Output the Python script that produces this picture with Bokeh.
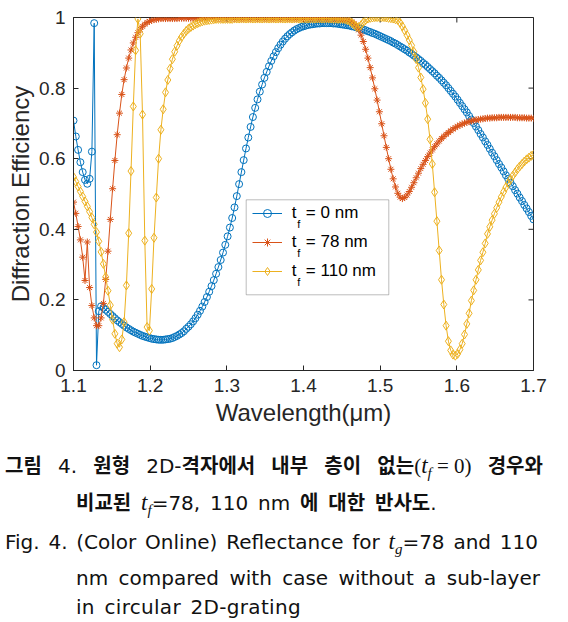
from bokeh.plotting import figure
from bokeh.models import (Range1d, FixedTicker, Legend, LegendItem,
                          Label, BoxAnnotation, Div)
from bokeh.layouts import column
from bokeh.embed import file_html
from bokeh.resources import INLINE

# ---------------- data ----------------
wavelength_nm = [
    1100, 1103, 1106, 1109, 1112, 1115, 1118, 1121, 1124, 1127,
    1130, 1133, 1136, 1139, 1142, 1145, 1148, 1151, 1154, 1157,
    1160, 1163, 1166, 1169, 1172, 1175, 1178, 1181, 1184, 1187,
    1190, 1193, 1196, 1199, 1202, 1205, 1208, 1211, 1214, 1217,
    1220, 1223, 1226, 1229, 1232, 1235, 1238, 1241, 1244, 1247,
    1250, 1253, 1256, 1259, 1262, 1265, 1268, 1271, 1274, 1277,
    1280, 1283, 1286, 1289, 1292, 1295, 1298, 1301, 1304, 1307,
    1310, 1313, 1316, 1319, 1322, 1325, 1328, 1331, 1334, 1337,
    1340, 1343, 1346, 1349, 1352, 1355, 1358, 1361, 1364, 1367,
    1370, 1373, 1376, 1379, 1382, 1385, 1388, 1391, 1394, 1397,
    1400, 1403, 1406, 1409, 1412, 1415, 1418, 1421, 1424, 1427,
    1430, 1433, 1436, 1439, 1442, 1445, 1448, 1451, 1454, 1457,
    1460, 1463, 1466, 1469, 1472, 1475, 1478, 1481, 1484, 1487,
    1490, 1493, 1496, 1499, 1502, 1505, 1508, 1511, 1514, 1517,
    1520, 1523, 1526, 1529, 1532, 1535, 1538, 1541, 1544, 1547,
    1550, 1553, 1556, 1559, 1562, 1565, 1568, 1571, 1574, 1577,
    1580, 1583, 1586, 1589, 1592, 1595, 1598, 1601, 1604, 1607,
    1610, 1613, 1616, 1619, 1622, 1625, 1628, 1631, 1634, 1637,
    1640, 1643, 1646, 1649, 1652, 1655, 1658, 1661, 1664, 1667,
    1670, 1673, 1676, 1679, 1682, 1685, 1688, 1691, 1694, 1697,
    1700,
]

eff_tf0 = [
    0.708, 0.663, 0.625, 0.590, 0.562, 0.540, 0.529, 0.543, 0.620, 0.984,
    0.015, 0.168, 0.182, 0.178, 0.172, 0.166, 0.160, 0.154, 0.148, 0.142,
    0.137, 0.132, 0.127, 0.122, 0.118, 0.114, 0.110, 0.107, 0.104, 0.101,
    0.098, 0.096, 0.094, 0.092, 0.090, 0.089, 0.088, 0.087, 0.087, 0.087,
    0.088, 0.089, 0.090, 0.092, 0.095, 0.098, 0.102, 0.106, 0.111, 0.118,
    0.124, 0.131, 0.139, 0.148, 0.158, 0.169, 0.181, 0.194, 0.208, 0.223,
    0.239, 0.256, 0.274, 0.293, 0.313, 0.334, 0.356, 0.380, 0.405, 0.432,
    0.462, 0.494, 0.528, 0.562, 0.596, 0.629, 0.660, 0.690, 0.718, 0.744,
    0.768, 0.790, 0.810, 0.829, 0.846, 0.862, 0.877, 0.890, 0.902, 0.913,
    0.923, 0.932, 0.940, 0.947, 0.953, 0.958, 0.963, 0.967, 0.970, 0.973,
    0.975, 0.977, 0.979, 0.980, 0.981, 0.982, 0.983, 0.983, 0.984, 0.984,
    0.984, 0.984, 0.984, 0.983, 0.983, 0.982, 0.981, 0.980, 0.979, 0.978,
    0.977, 0.975, 0.974, 0.972, 0.970, 0.968, 0.966, 0.964, 0.961, 0.959,
    0.956, 0.954, 0.951, 0.948, 0.945, 0.942, 0.939, 0.936, 0.933, 0.929,
    0.926, 0.922, 0.918, 0.914, 0.910, 0.906, 0.901, 0.897, 0.892, 0.887,
    0.882, 0.877, 0.871, 0.866, 0.860, 0.854, 0.848, 0.842, 0.835, 0.829,
    0.822, 0.815, 0.808, 0.800, 0.792, 0.784, 0.776, 0.767, 0.758, 0.749,
    0.740, 0.731, 0.721, 0.711, 0.701, 0.691, 0.681, 0.670, 0.660, 0.649,
    0.639, 0.628, 0.617, 0.607, 0.596, 0.585, 0.575, 0.564, 0.553, 0.543,
    0.532, 0.522, 0.511, 0.501, 0.490, 0.480, 0.469, 0.459, 0.449, 0.438,
    0.428,
]

eff_tf78 = [
    0.477, 0.445, 0.408, 0.370, 0.321, 0.255, 0.364, 0.235, 0.184, 0.149,
    0.127, 0.127, 0.149, 0.190, 0.258, 0.338, 0.428, 0.515, 0.595, 0.668,
    0.729, 0.782, 0.824, 0.857, 0.885, 0.908, 0.928, 0.944, 0.957, 0.967,
    0.975, 0.981, 0.986, 0.989, 0.992, 0.994, 0.995, 0.996, 0.997, 0.997,
    0.997, 0.997, 0.997, 0.997, 0.997, 0.997, 0.998, 0.998, 0.998, 0.998,
    0.998, 0.998, 0.998, 0.998, 0.998, 0.998, 0.998, 0.998, 0.998, 0.998,
    0.998, 0.998, 0.998, 0.998, 0.998, 0.998, 0.998, 0.998, 0.998, 0.998,
    0.998, 0.998, 0.998, 0.998, 0.998, 0.998, 0.998, 0.998, 0.998, 0.998,
    0.998, 0.998, 0.998, 0.998, 0.998, 0.998, 0.998, 0.998, 0.998, 0.998,
    0.998, 0.998, 0.998, 0.998, 0.998, 0.998, 0.998, 0.998, 0.998, 0.998,
    0.998, 0.998, 0.998, 0.998, 0.998, 0.998, 0.998, 0.998, 0.998, 0.998,
    0.998, 0.997, 0.997, 0.997, 0.997, 0.996, 0.996, 0.995, 0.994, 0.993,
    0.991, 0.988, 0.983, 0.976, 0.965, 0.950, 0.932, 0.910, 0.885, 0.858,
    0.829, 0.798, 0.766, 0.733, 0.699, 0.665, 0.632, 0.600, 0.570, 0.543,
    0.520, 0.502, 0.491, 0.487, 0.490, 0.497, 0.507, 0.519, 0.532, 0.546,
    0.559, 0.572, 0.584, 0.595, 0.606, 0.616, 0.625, 0.634, 0.642, 0.650,
    0.657, 0.663, 0.669, 0.674, 0.679, 0.684, 0.688, 0.692, 0.695, 0.698,
    0.701, 0.703, 0.705, 0.707, 0.709, 0.710, 0.711, 0.712, 0.713, 0.714,
    0.715, 0.715, 0.716, 0.716, 0.716, 0.717, 0.717, 0.717, 0.717, 0.717,
    0.717, 0.717, 0.717, 0.716, 0.716, 0.716, 0.716, 0.715, 0.715, 0.715,
    0.714,
]

eff_tf110 = [
    0.548, 0.535, 0.521, 0.507, 0.493, 0.479, 0.465, 0.450, 0.433, 0.414,
    0.392, 0.366, 0.336, 0.302, 0.265, 0.226, 0.185, 0.144, 0.104, 0.076,
    0.066, 0.088, 0.137, 0.241, 0.389, 0.565, 0.748, 0.907, 0.996, 0.954,
    0.725, 0.368, 0.123, 0.113, 0.231, 0.376, 0.490, 0.600, 0.682, 0.740,
    0.788, 0.823, 0.855, 0.882, 0.903, 0.920, 0.934, 0.945, 0.954, 0.962,
    0.968, 0.973, 0.977, 0.981, 0.984, 0.987, 0.989, 0.991, 0.992, 0.993,
    0.994, 0.995, 0.996, 0.996, 0.996, 0.996, 0.996, 0.996, 0.996, 0.996,
    0.997, 0.997, 0.997, 0.997, 0.997, 0.997, 0.997, 0.997, 0.997, 0.997,
    0.997, 0.997, 0.997, 0.997, 0.997, 0.997, 0.997, 0.997, 0.997, 0.997,
    0.997, 0.997, 0.997, 0.997, 0.997, 0.997, 0.997, 0.997, 0.997, 0.997,
    0.997, 0.997, 0.997, 0.997, 0.997, 0.997, 0.997, 0.997, 0.997, 0.997,
    0.997, 0.997, 0.997, 0.996, 0.996, 0.996, 0.996, 0.996, 0.995, 0.993,
    0.990, 0.985, 0.979, 0.974, 0.973, 0.978, 0.986, 0.993, 0.997, 0.999,
    1.000, 1.001, 1.001, 1.001, 1.001, 1.001, 1.000, 0.999, 0.998, 0.997,
    0.995, 0.993, 0.985, 0.975, 0.963, 0.950, 0.936, 0.921, 0.903, 0.882,
    0.858, 0.830, 0.797, 0.758, 0.712, 0.655, 0.585, 0.505, 0.423, 0.340,
    0.257, 0.187, 0.127, 0.083, 0.057, 0.045, 0.042, 0.047, 0.059, 0.076,
    0.102, 0.132, 0.162, 0.198, 0.227, 0.257, 0.285, 0.312, 0.335, 0.360,
    0.387, 0.407, 0.426, 0.444, 0.461, 0.477, 0.492, 0.506, 0.519, 0.531,
    0.542, 0.552, 0.561, 0.570, 0.578, 0.585, 0.592, 0.598, 0.603, 0.608,
    0.611,
]

legend_labels = ["t\u00a0\u00a0= 0 nm", "t\u00a0\u00a0= 78 nm", "t\u00a0\u00a0= 110 nm"]
series_colors = ["#0072BD", "#D95319", "#EDB120"]
series_markers = ["circle", "asterisk", "diamond"]

x_ticks = [1.1, 1.2, 1.3, 1.4, 1.5, 1.6, 1.7]
x_tick_labels = ["1.1", "1.2", "1.3", "1.4", "1.5", "1.6", "1.7"]
y_ticks = [0, 0.2, 0.4, 0.6, 0.8, 1]
y_tick_labels = ["0", "0.2", "0.4", "0.6", "0.8", "1"]

x_label = "Wavelength(\u03bcm)"
y_label = "Diffraction Efficiency"

# ---------------- figure ----------------
AX = "#262626"
FONT = "Liberation Sans"
X0, X1, Y0, Y1 = 1.1, 1.7, 0.0, 1.0
FRAME_W, FRAME_H = 460, 353
TICK_PX = 5

wavelength_um = [v / 1000.0 for v in wavelength_nm]
n = min(len(wavelength_um), len(eff_tf0), len(eff_tf78), len(eff_tf110))

p = figure(width=568, height=428,
           x_range=Range1d(X0, X1), y_range=Range1d(Y0, Y1),
           output_backend="svg", toolbar_location=None,
           min_border_left=73, min_border_right=35,
           min_border_top=17, min_border_bottom=58)
p.xgrid.visible = False
p.ygrid.visible = False
p.outline_line_color = AX
p.outline_line_width = 1
p.background_fill_color = "white"
p.border_fill_color = "white"


def style_axis(ax):
    ax.axis_line_color = AX
    ax.axis_line_width = 1
    ax.major_tick_line_color = AX
    ax.major_tick_line_width = 1
    ax.major_tick_in = TICK_PX
    ax.major_tick_out = 0
    ax.minor_tick_line_color = None
    ax.major_label_text_font = FONT
    ax.major_label_text_color = AX
    ax.major_label_text_font_size = "19px"
    ax.major_label_standoff = 8
    ax.axis_label_text_font = FONT
    ax.axis_label_text_font_size = "24px"
    ax.axis_label_text_font_style = "normal"
    ax.axis_label_text_color = AX


xa = p.xaxis[0]
xa.ticker = FixedTicker(ticks=x_ticks)
xa.major_label_overrides = {t: s for t, s in zip(x_ticks, x_tick_labels)}
style_axis(xa)
xa.axis_label = x_label
xa.axis_label_standoff = 4

ya = p.yaxis[0]
ya.ticker = FixedTicker(ticks=y_ticks)
ya.major_label_overrides = {t: s for t, s in zip(y_ticks, y_tick_labels)}
style_axis(ya)
ya.axis_label = y_label
ya.axis_label_standoff = 2

# mirrored inward ticks on the top and right sides of the box
dy_tick = TICK_PX / FRAME_H * (Y1 - Y0)
dx_tick = TICK_PX / FRAME_W * (X1 - X0)
p.segment(x0=x_ticks, y0=[Y1] * len(x_ticks), x1=x_ticks,
          y1=[Y1 - dy_tick] * len(x_ticks), line_color=AX, line_width=1)
p.segment(x0=[X1] * len(y_ticks), y0=y_ticks, x1=[X1 - dx_tick] * len(y_ticks),
          y1=y_ticks, line_color=AX, line_width=1)

sizes = [7, 7, 9]
items = []
for ys, lab, col, mk, sz in zip([eff_tf0, eff_tf78, eff_tf110], legend_labels,
                                series_colors, series_markers, sizes):
    ln = p.line(wavelength_um[:n], ys[:n], line_color=col, line_width=1)
    sc = p.scatter(wavelength_um[:n], ys[:n], marker=mk, size=sz,
                   line_color=col, fill_color=None, line_width=1)
    items.append(LegendItem(label=lab, renderers=[ln, sc]))

# legend frame (frame-relative screen units)
box = BoxAnnotation(left=172.7, right=315.3, top=170.7, bottom=75.7,
                    left_units="screen", right_units="screen",
                    top_units="screen", bottom_units="screen",
                    fill_color="white", fill_alpha=1.0,
                    line_color=AX, line_width=1)
p.add_layout(box)

legend = Legend(items=items, location=(174.7, 84.7),
                label_text_font=FONT, label_text_font_size="17px",
                label_text_color="#000000",
                glyph_width=30, glyph_height=20, label_height=20,
                label_standoff=10, spacing=9, padding=4, margin=0,
                border_line_alpha=0, background_fill_alpha=0)
p.add_layout(legend)

for yy in [146.7, 117.7, 88.7]:
    p.add_layout(Label(x=223.8, y=yy, x_units="screen", y_units="screen",
                       text="f", text_font=FONT, text_font_size="11px",
                       text_color="#000000", text_baseline="alphabetic"))

# ---------------- caption ----------------
MATH = "font-family:'Liberation Serif','DejaVu Serif',serif;font-weight:normal;"


def K(s):
    # Korean run, drawn heavier like the reference's gothic face
    return f'<span style="font-weight:bold">{s}</span>'


def t_sub(sub):
    return (f'<span style="{MATH}font-style:italic;font-size:23px">t</span>'
            f'<span style="{MATH}font-style:italic;font-size:15px;position:relative;top:5px">{sub}</span>')


def justified(words, left, top, width):
    spans = "".join(f"<span>{w}</span>" for w in words)
    return (f'<div style="position:absolute;left:{left}px;top:{top}px;width:{width}px;'
            f'display:flex;justify-content:space-between;white-space:nowrap;'
            f'line-height:24px">{spans}</div>')


def plain(text, left, top, extra=""):
    return (f'<div style="position:absolute;left:{left}px;top:{top}px;'
            f'white-space:nowrap;line-height:24px;{extra}">{text}</div>')


caption_line1 = [K("그림"), "4.", K("원형"), "2D-" + K("격자에서"), K("내부"), K("층이"),
                 K("없는") + f'<span style="{MATH}font-size:21px">(</span>{t_sub("f")}'
                 f'<span style="{MATH}font-size:21px">&nbsp;=&nbsp;0)</span>',
                 K("경우와")]
caption_line2 = (K("비교된") + f' {t_sub("f")}=78, 110 nm ' + K("에") + " "
                 + K("대한") + " " + K("반사도") + ".")
caption_line3 = ["Fig.", "4.", "(Color", "Online)", "Reflectance", "for",
                 f'{t_sub("g")}=78', "and", "110"]
caption_line4 = ["nm", "compared", "with", "case", "without", "a", "sub-layer"]
caption_line5 = "in circular 2D-grating"

html = (
    '<div style="position:relative;width:560px;height:194px;'
    "font-family:'DejaVu Sans','Noto Sans CJK KR',sans-serif;font-size:20px;color:#111;\">"
    + justified(caption_line1, 0, 21, 538)
    + plain(caption_line2, 71, 58, "word-spacing:3.5px")
    + justified(caption_line3, 0, 97, 533)
    + justified(caption_line4, 71, 133, 464)
    + plain(caption_line5, 71, 162, "word-spacing:3px;letter-spacing:0.3px")
    + "</div>"
)
caption = Div(text=html, width=568, height=194)

layout = column(p, caption, spacing=0)
open("out.html", "w").write(file_html(layout, INLINE))
